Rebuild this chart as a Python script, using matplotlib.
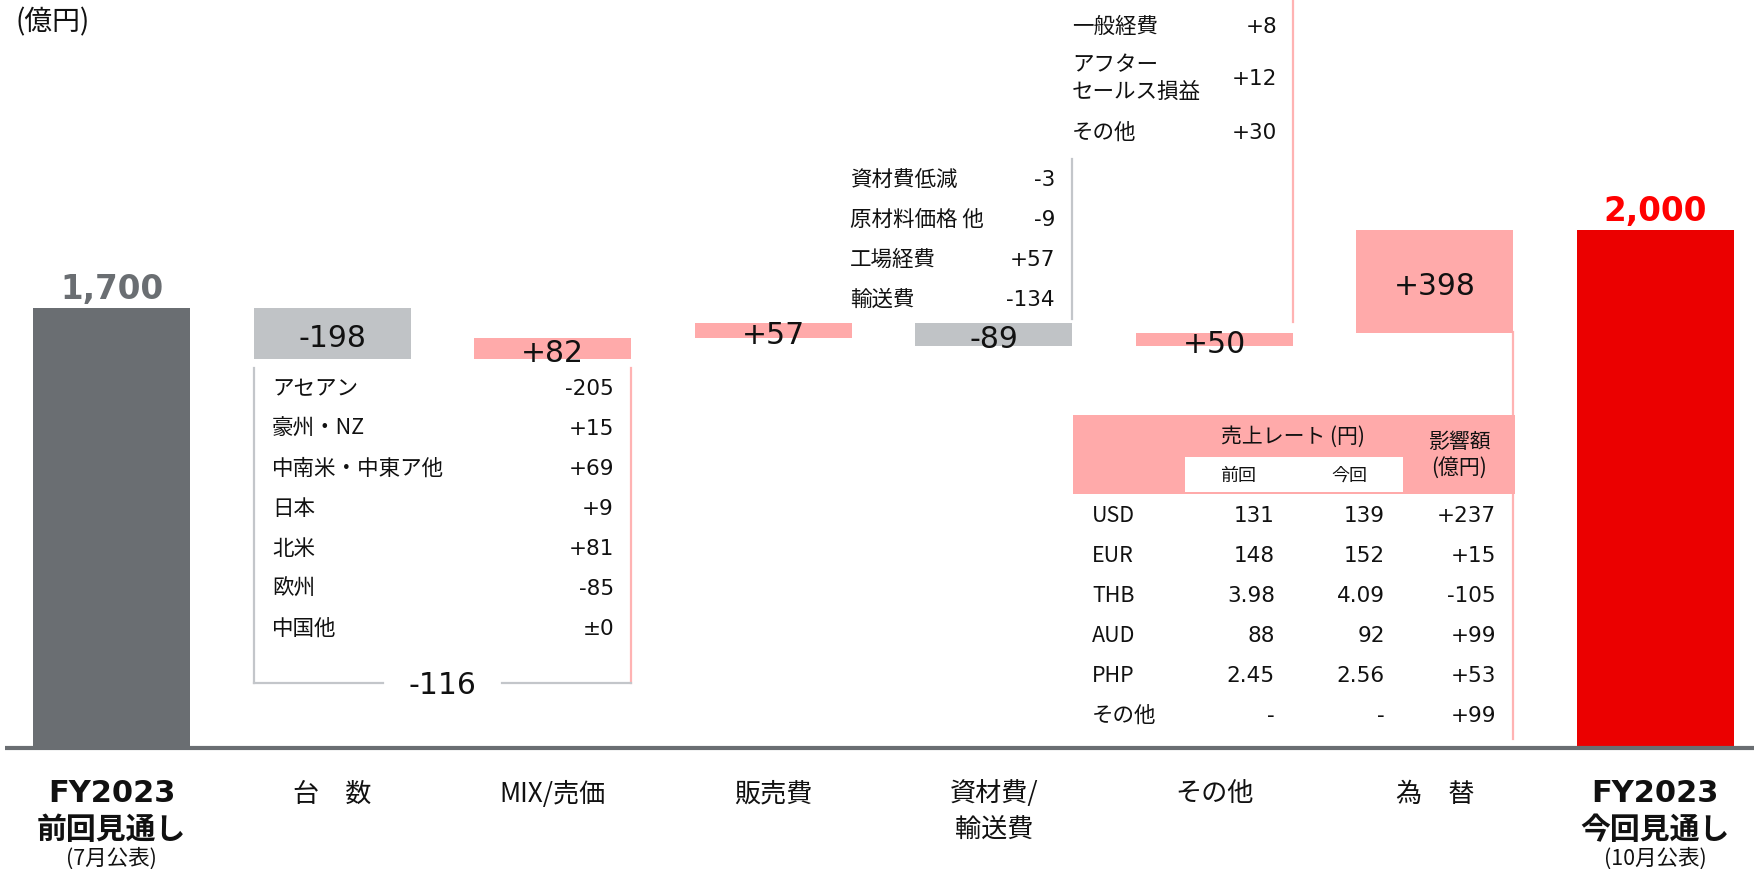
import matplotlib
matplotlib.use("Agg")
import matplotlib.pyplot as plt

plt.rcParams['font.family'] = ['Noto Sans CJK JP', 'DejaVu Sans']
NUM_FAM = ['DejaVu Sans', 'Noto Sans CJK JP']

# ---------------- data ----------------
categories = ["FY2023\n前回見通し", "台　数", "MIX/売価", "販売費", "資材費/\n輸送費", "その他", "為　替", "FY2023\n今回見通し"]
total_notes = ["(7月公表)", "(10月公表)"]
start_total = 1700
deltas = [-198, 82, 57, -89, 50, 398]
end_total = 2000

volume_labels = ["アセアン", "豪州・NZ", "中南米・中東ア他", "日本", "北米", "欧州", "中国他"]
volume_values = ["-205", "+15", "+69", "+9", "+81", "-85", "±0"]

material_labels = ["資材費低減", "原材料価格 他", "工場経費", "輸送費"]
material_values = ["-3", "-9", "+57", "-134"]

other_labels = ["一般経費", "アフター\nセールス損益", "その他"]
other_values = ["+8", "+12", "+30"]

fx_currencies = ["USD", "EUR", "THB", "AUD", "PHP", "その他"]
fx_prev = ["131", "148", "3.98", "88", "2.45", "-"]
fx_curr = ["139", "152", "4.09", "92", "2.56", "-"]
fx_impact = ["+237", "+15", "-105", "+99", "+53", "+99"]

# ---------------- styles ----------------
C_PREV = '#6a6e72'
C_NEG = '#c0c3c6'
C_POS = '#ffaaaa'
C_NEW = '#eb0000'
C_LGRAY = '#c3c6ca'
C_LPINK = '#ffb3b3'
TXT = '#111111'

W_PX, H_PX = 1754, 870
fig = plt.figure(figsize=(W_PX / 100, H_PX / 100), dpi=100)
ax = fig.add_axes([0, 0, 1, 1])

SLOT = 220.5           # px per category
X0 = 111.8             # px center of first bar
Y0 = 749.0             # px row of value 0
S = 0.259              # px per unit
XMIN = -X0 / SLOT
XMAX = XMIN + W_PX / SLOT
YMAX = Y0 / S
YMIN = -(H_PX - Y0) / S
ax.set_xlim(XMIN, XMAX)
ax.set_ylim(YMIN, YMAX)
ax.axis('off')


def dx(px):
    return XMIN + px / SLOT


def dy(py):
    return (Y0 - py) / S


BW = 0.712

# ---------------- bars ----------------
bottoms, heights, colors = [0], [start_total], [C_PREV]
level = start_total
for d in deltas:
    lo = level + min(d, 0)
    bottoms.append(lo)
    heights.append(abs(d))
    colors.append(C_POS if d > 0 else C_NEG)
    level += d
bottoms.append(0)
heights.append(end_total)
colors.append(C_NEW)
xs = list(range(len(categories)))
ax.bar(xs, heights, bottom=bottoms, width=BW, color=colors, zorder=2)

# baseline
ax.plot([dx(5), XMAX], [0, 0], color=C_PREV, lw=3.0, zorder=3, solid_capstyle='butt')

# totals labels
ax.text(0, start_total + 75, f"{start_total:,}", ha='center', va='center',
        fontsize=23.5, fontweight='bold', color=C_PREV, family=NUM_FAM)
ax.text(7, end_total + 75, f"{end_total:,}", ha='center', va='center',
        fontsize=23.5, fontweight='bold', color='#ff0000', family=NUM_FAM)

# delta labels
for i, d in enumerate(deltas, start=1):
    yc = bottoms[i] + heights[i] / 2 - 17
    ax.text(i, yc, f"{d:+d}", ha='center', va='center', fontsize=21.5, color=TXT,
            zorder=4, family=NUM_FAM)

# ---------------- category labels ----------------
for i, cat in enumerate(categories):
    if i in (0, len(categories) - 1):
        l1, l2 = cat.split("\n")
        ax.text(i, dy(794), l1, ha='center', va='center', fontsize=22, fontweight='bold',
                color=TXT, family=NUM_FAM)
        ax.text(i, dy(830), l2, ha='center', va='center', fontsize=21.5, fontweight='bold', color=TXT)
        note = total_notes[0] if i == 0 else total_notes[1]
        ax.text(i, dy(859), note, ha='center', va='center', fontsize=15.5, color=TXT)
    else:
        lines = cat.split("\n")
        for k, ln in enumerate(lines):
            ax.text(i, dy(794 + 35 * k), ln, ha='center', va='center', fontsize=18.8, color=TXT)

ax.text(dx(15), dy(22), "(億円)", ha='left', va='center', fontsize=20, color=TXT)

LIST_FS = 15.5

# ---------------- volume breakdown (bracket) ----------------
xl = 1 - BW / 2
xr = 2 + BW / 2
ax.plot([xl, xl], [dy(369), dy(684)], color=C_LGRAY, lw=1.6, zorder=1)
ax.plot([xr, xr], [dy(369), dy(684)], color=C_LPINK, lw=1.6, zorder=1)
ax.plot([xl, dx(383)], [dy(684), dy(684)], color=C_LGRAY, lw=1.6, zorder=1)
ax.plot([dx(502), xr], [dy(684), dy(684)], color=C_LGRAY, lw=1.6, zorder=1)
ax.text(1.5, dy(686), f"{deltas[0] + deltas[1]:+d}", ha='center', va='center', fontsize=21.5,
        color=TXT, family=NUM_FAM)
for k, (lab, val) in enumerate(zip(volume_labels, volume_values)):
    y = dy(389 + 40 * k)
    ax.text(dx(272), y, lab, ha='left', va='center', fontsize=LIST_FS, color=TXT)
    ax.text(dx(614), y, val, ha='right', va='center', fontsize=LIST_FS, color=TXT, family=NUM_FAM)

# ---------------- material breakdown ----------------
xm = 4 + BW / 2
ax.plot([xm, xm], [dy(160), dy(320)], color=C_LGRAY, lw=1.6, zorder=1)
for k, (lab, val) in enumerate(zip(material_labels, material_values)):
    y = dy(180 + 40 * k)
    ax.text(dx(850), y, lab, ha='left', va='center', fontsize=LIST_FS, color=TXT)
    ax.text(dx(1055), y, val, ha='right', va='center', fontsize=LIST_FS, color=TXT, family=NUM_FAM)

# ---------------- other breakdown ----------------
xo = 5 + BW / 2
ax.plot([xo, xo], [dy(0), dy(323)], color=C_LPINK, lw=1.6, zorder=1)
other_rows = [27, 79, 133]
for lab, val, yr in zip(other_labels, other_values, other_rows):
    lines = lab.split("\n")
    if len(lines) == 1:
        ax.text(dx(1072), dy(yr), lab, ha='left', va='center', fontsize=LIST_FS, color=TXT)
    else:
        ax.text(dx(1072), dy(yr - 14), lines[0], ha='left', va='center', fontsize=LIST_FS, color=TXT)
        ax.text(dx(1072), dy(yr + 13), lines[1], ha='left', va='center', fontsize=LIST_FS, color=TXT)
    ax.text(dx(1277), dy(yr), val, ha='right', va='center', fontsize=LIST_FS, color=TXT, family=NUM_FAM)

# ---------------- FX table ----------------
xf = 6 + BW / 2
ax.plot([xf, xf], [dy(333), dy(740)], color=C_LPINK, lw=1.6, zorder=1)
ax.add_patch(plt.Rectangle((dx(1073), dy(495)), dx(1515) - dx(1073), dy(416) - dy(495),
                           facecolor=C_POS, edgecolor='none', zorder=2))
ax.add_patch(plt.Rectangle((dx(1185), dy(493)), dx(1403) - dx(1185), dy(458) - dy(493),
                           facecolor='white', edgecolor='none', zorder=3))
ax.text(dx(1293), dy(437), "売上レート (円)", ha='center', va='center', fontsize=15, color=TXT, zorder=4)
ax.text(dx(1238), dy(476), "前回", ha='center', va='center', fontsize=13, color=TXT, zorder=4)
ax.text(dx(1349), dy(476), "今回", ha='center', va='center', fontsize=13, color=TXT, zorder=4)
ax.text(dx(1459), dy(442), "影響額", ha='center', va='center', fontsize=15, color=TXT, zorder=4)
ax.text(dx(1459), dy(468), "(億円)", ha='center', va='center', fontsize=15, color=TXT, zorder=4)
for k in range(len(fx_currencies)):
    y = dy(516 + 40 * k)
    ax.text(dx(1092), y, fx_currencies[k], ha='left', va='center', fontsize=LIST_FS, color=TXT)
    ax.text(dx(1275), y, fx_prev[k], ha='right', va='center', fontsize=LIST_FS, color=TXT, family=NUM_FAM)
    ax.text(dx(1385), y, fx_curr[k], ha='right', va='center', fontsize=LIST_FS, color=TXT, family=NUM_FAM)
    ax.text(dx(1496), y, fx_impact[k], ha='right', va='center', fontsize=LIST_FS, color=TXT, family=NUM_FAM)

fig.savefig("out.png", dpi=100, facecolor='white')
